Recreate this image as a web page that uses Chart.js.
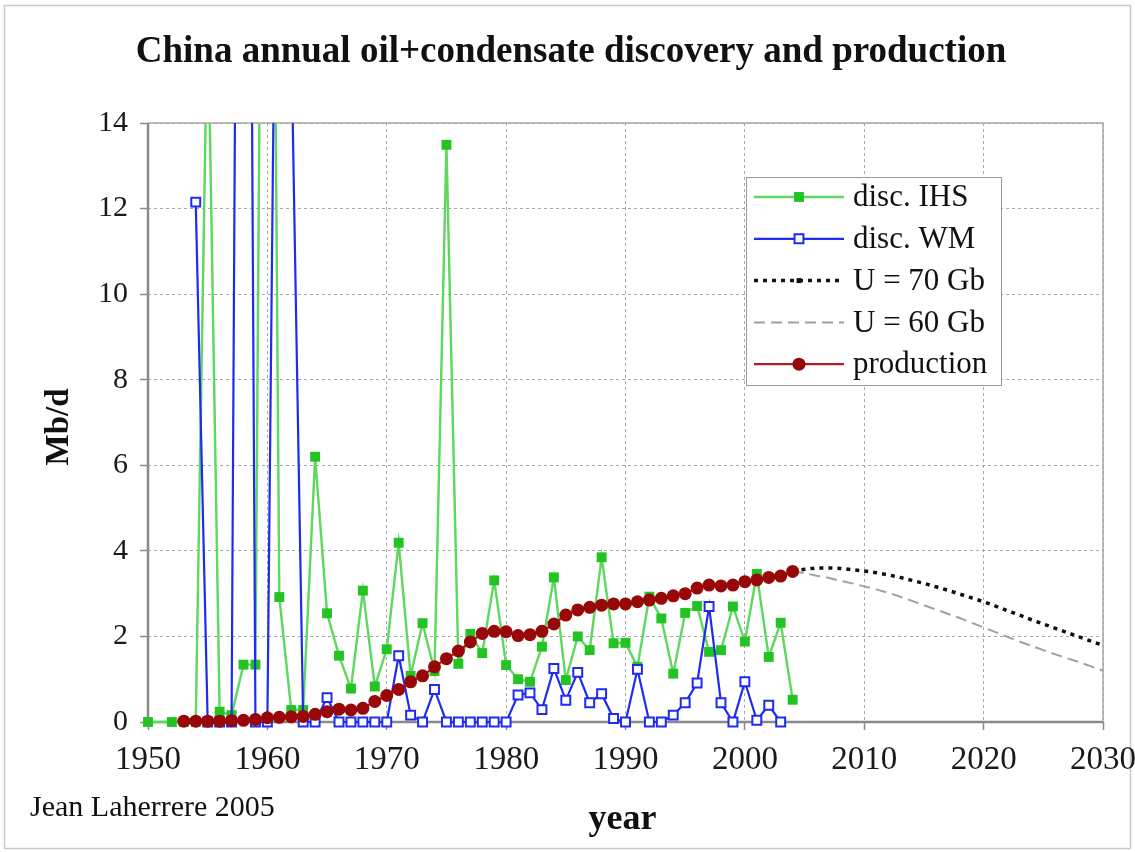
<!DOCTYPE html>
<html>
<head>
<meta charset="utf-8">
<title>China annual oil+condensate discovery and production</title>
<script src="https://cdn.jsdelivr.net/npm/chart.js@4/dist/chart.umd.min.js"></script>
<style>
  html, body { margin: 0; padding: 0; background: #fff; }
  canvas { display: block; }
</style>
</head>
<body>
<canvas id="chart" width="1135" height="852"></canvas>
<script>
// Discovery according to IHS (Mb/d equivalent), 1950-2004
const ihsYears = [1950,1951,1952,1953,1954,1955,1956,1957,1958,1959,1960,1961,1962,1963,1964,1965,1966,1967,1968,1969,1970,1971,1972,1973,1974,1975,1976,1977,1978,1979,1980,1981,1982,1983,1984,1985,1986,1987,1988,1989,1990,1991,1992,1993,1994,1995,1996,1997,1998,1999,2000,2001,2002,2003,2004];
const ihsValues = [0,null,0,0,0,17,0.24,0.16,1.34,1.34,40,2.92,0.28,0.28,6.2,2.54,1.55,0.78,3.07,0.83,1.7,4.19,1.08,2.31,1.19,13.49,1.36,2.06,1.61,3.31,1.33,1.0,0.94,1.76,3.38,0.98,2.0,1.68,3.85,1.84,1.85,1.29,2.93,2.42,1.13,2.55,2.71,1.64,1.68,2.7,1.88,3.46,1.52,2.32,0.52];

// Discovery according to Wood Mackenzie, 1954-2003
const wmYears = [1954,1955,1956,1957,1958,1959,1960,1961,1962,1963,1964,1965,1966,1967,1968,1969,1970,1971,1972,1973,1974,1975,1976,1977,1978,1979,1980,1981,1982,1983,1984,1985,1986,1987,1988,1989,1990,1991,1992,1993,1994,1995,1996,1997,1998,1999,2000,2001,2002,2003];
const wmValues = [12.15,0,0,0,50,0,0,28,16,0,0,0.57,0,0,0,0,0,1.55,0.16,0,0.76,0,0,0,0,0,0,0.63,0.68,0.29,1.25,0.51,1.16,0.45,0.66,0.08,0,1.23,0,0,0.16,0.45,0.91,2.7,0.45,0,0.94,0.04,0.39,0];

// Production, 1953-2004
const prodYears = [1953,1954,1955,1956,1957,1958,1959,1960,1961,1962,1963,1964,1965,1966,1967,1968,1969,1970,1971,1972,1973,1974,1975,1976,1977,1978,1979,1980,1981,1982,1983,1984,1985,1986,1987,1988,1989,1990,1991,1992,1993,1994,1995,1996,1997,1998,1999,2000,2001,2002,2003,2004];
const prodValues = [0.02,0.02,0.02,0.02,0.03,0.04,0.06,0.1,0.11,0.12,0.13,0.18,0.24,0.3,0.28,0.32,0.48,0.62,0.76,0.94,1.08,1.29,1.48,1.66,1.87,2.07,2.12,2.11,2.02,2.04,2.12,2.29,2.5,2.62,2.68,2.73,2.76,2.76,2.81,2.85,2.89,2.95,3.0,3.13,3.2,3.18,3.2,3.28,3.32,3.38,3.41,3.52];

// Production outlook for ultimate recovery of 70 Gb and 60 Gb, 2004-2030
const outlookYears = [2004,2005,2006,2007,2008,2009,2010,2011,2012,2013,2014,2015,2016,2017,2018,2019,2020,2021,2022,2023,2024,2025,2026,2027,2028,2029,2030];
const u70Values = [3.52,3.57,3.6,3.6,3.59,3.56,3.53,3.49,3.44,3.38,3.31,3.24,3.16,3.08,2.99,2.9,2.81,2.71,2.6,2.5,2.39,2.29,2.19,2.09,1.99,1.89,1.79];
const u60Values = [3.52,3.48,3.42,3.37,3.3,3.24,3.17,3.1,3.02,2.93,2.83,2.73,2.63,2.53,2.43,2.32,2.21,2.1,1.99,1.88,1.78,1.68,1.58,1.49,1.4,1.3,1.2];

// Axis ticks
const yearTicks = [1950,1960,1970,1980,1990,2000,2010,2020,2030];
const mbdTicks = [0,2,4,6,8,10,12,14];

const SERIF = '"Liberation Serif", "Times New Roman", Times, serif';

function toPoints(xs, ys) {
  return xs.map((x, i) => ({ x: x, y: ys[i] }));
}

// Markers for the hand-drawn legend
function drawMarker(ctx, ds, x, y) {
  const r = ds.pointRadius || 0;
  if (!r) return;
  ctx.save();
  ctx.setLineDash([]);
  ctx.fillStyle = ds.pointBackgroundColor;
  ctx.strokeStyle = ds.pointBorderColor;
  ctx.lineWidth = ds.pointBorderWidth || 1;
  ctx.beginPath();
  if (ds.pointStyle === 'circle') {
    ctx.arc(x, y, r, 0, Math.PI * 2);
  } else {
    const s = Math.SQRT1_2 * r;
    ctx.rect(x - s, y - s, 2 * s, 2 * s);
  }
  ctx.fill();
  if (ds.pointBorderWidth) ctx.stroke();
  ctx.restore();
}

const decorations = {
  id: 'decorations',
  beforeDraw(chart) {
    const ctx = chart.ctx;
    ctx.save();
    ctx.fillStyle = '#ffffff';
    ctx.fillRect(0, 0, chart.width, chart.height);
    ctx.strokeStyle = '#c9c9c9';
    ctx.lineWidth = 1.5;
    ctx.strokeRect(4.5, 5.5, chart.width - 9, chart.height - 9);
    ctx.restore();
  },
  beforeDatasetsDraw(chart) {
    const ctx = chart.ctx;
    const a = chart.chartArea;
    ctx.save();
    ctx.setLineDash([]);
    // top and right edges of the plot
    ctx.strokeStyle = '#a8a8a8';
    ctx.lineWidth = 1.5;
    ctx.beginPath();
    ctx.moveTo(a.left, a.top);
    ctx.lineTo(a.right, a.top);
    ctx.lineTo(a.right, a.bottom);
    ctx.stroke();
    // axes
    ctx.strokeStyle = '#8a8a8a';
    ctx.lineWidth = 2.5;
    ctx.beginPath();
    ctx.moveTo(a.left, a.top);
    ctx.lineTo(a.left, a.bottom);
    ctx.lineTo(a.right, a.bottom);
    ctx.stroke();
    ctx.restore();
  },
  afterDraw(chart) {
    const ctx = chart.ctx;
    const a = chart.chartArea;
    ctx.save();
    ctx.fillStyle = '#111';

    // title
    ctx.font = 'bold 37px ' + SERIF;
    ctx.textAlign = 'center';
    ctx.textBaseline = 'alphabetic';
    ctx.fillText('China annual oil+condensate discovery and production', 571, 62);

    // axis titles
    ctx.font = 'bold 36px ' + SERIF;
    ctx.fillText('year', (a.left + a.right) / 2 - 3, 829);
    ctx.save();
    ctx.translate(68, 427);
    ctx.rotate(-Math.PI / 2);
    ctx.font = 'bold 33px ' + SERIF;
    ctx.fillText('Mb/d', 0, 0);
    ctx.restore();

    // credit
    ctx.font = '30px ' + SERIF;
    ctx.textAlign = 'left';
    ctx.fillText('Jean Laherrere 2005', 30, 816);

    // legend
    const lx = a.left + 598, ly = a.top + 54, lw = 255, lh = 208;
    ctx.fillStyle = '#ffffff';
    ctx.fillRect(lx, ly, lw, lh);
    ctx.strokeStyle = '#9a9a9a';
    ctx.lineWidth = 1;
    ctx.strokeRect(lx + 0.5, ly + 0.5, lw, lh);
    const legendOrder = ['disc. IHS', 'disc. WM', 'U = 70 Gb', 'U = 60 Gb', 'production'];
    legendOrder.forEach((label, i) => {
      const ds = chart.data.datasets.find(d => d.label === label);
      const y = ly + 20 + i * 41.8;
      ctx.save();
      ctx.strokeStyle = ds.borderColor;
      ctx.lineWidth = ds.borderWidth;
      ctx.setLineDash(ds.borderDash || []);
      ctx.beginPath();
      ctx.moveTo(lx + 8, y);
      ctx.lineTo(lx + 98, y);
      ctx.stroke();
      ctx.restore();
      drawMarker(ctx, Object.assign({}, ds, { pointRadius: ds.legendRadius }), lx + 53, y);
      ctx.fillStyle = '#111';
      ctx.font = '31px ' + SERIF;
      ctx.textAlign = 'left';
      ctx.textBaseline = 'middle';
      ctx.fillText(label, lx + 107, y + 1);
    });
    ctx.restore();
  }
};

const clipTopOnly = { top: 0, left: 10, right: 10, bottom: 10 };

new Chart(document.getElementById('chart'), {
  type: 'line',
  data: {
    datasets: [
      {
        label: 'disc. IHS',
        data: toPoints(ihsYears, ihsValues),
        order: 5,
        spanGaps: true,
        borderColor: '#5ed85e',
        borderWidth: 2.4,
        pointStyle: 'rect',
        pointRadius: 7,
        legendRadius: 7,
        pointBackgroundColor: '#22c322',
        pointBorderColor: '#22c322',
        pointBorderWidth: 0,
        clip: clipTopOnly
      },
      {
        label: 'disc. WM',
        data: toPoints(wmYears, wmValues),
        order: 4,
        borderColor: '#1f2bf0',
        borderWidth: 2.2,
        pointStyle: 'rect',
        pointRadius: 6.3,
        legendRadius: 6.3,
        pointBackgroundColor: '#ffffff',
        pointBorderColor: '#1f2bf0',
        pointBorderWidth: 2,
        clip: clipTopOnly
      },
      {
        label: 'U = 70 Gb',
        data: toPoints(outlookYears, u70Values),
        order: 3,
        borderColor: '#111111',
        borderWidth: 3.5,
        borderDash: [4, 5],
        pointStyle: 'rect',
        pointRadius: 0,
        legendRadius: 3.5,
        pointBackgroundColor: '#111111',
        pointBorderColor: '#111111',
        pointBorderWidth: 0,
        clip: clipTopOnly
      },
      {
        label: 'U = 60 Gb',
        data: toPoints(outlookYears, u60Values),
        order: 2,
        borderColor: '#a0a0a0',
        borderWidth: 2,
        borderDash: [11, 6],
        pointRadius: 0,
        legendRadius: 0,
        clip: clipTopOnly
      },
      {
        label: 'production',
        data: toPoints(prodYears, prodValues),
        order: 1,
        borderColor: '#b02020',
        borderWidth: 2.2,
        pointStyle: 'circle',
        pointRadius: 6.5,
        legendRadius: 6.5,
        pointBackgroundColor: '#980808',
        pointBorderColor: '#980808',
        pointBorderWidth: 0,
        clip: clipTopOnly
      }
    ]
  },
  options: {
    responsive: false,
    animation: false,
    events: [],
    layout: { autoPadding: false, padding: { top: 123, right: 32, left: 0, bottom: 0 } },
    elements: { line: { tension: 0 } },
    plugins: { legend: { display: false }, title: { display: false }, tooltip: { enabled: false } },
    scales: {
      x: {
        type: 'linear',
        min: 1950,
        max: 2030,
        afterBuildTicks: s => { s.ticks = yearTicks.map(v => ({ value: v })); },
        afterFit: s => { s.height = 130; s.paddingLeft = 0; s.paddingRight = 0; },
        ticks: {
          autoSkip: false,
          maxRotation: 0,
          padding: 11,
          color: '#1a1a1a',
          font: { family: SERIF, size: 33 },
          callback: v => String(v)
        },
        grid: { color: '#a8a8a8', lineWidth: 1, tickLength: 8, tickColor: '#8a8a8a', tickWidth: 1.5 },
        border: { display: false, dash: [3, 3] }
      },
      y: {
        type: 'linear',
        min: 0,
        max: 14,
        afterBuildTicks: s => { s.ticks = mbdTicks.map(v => ({ value: v })); },
        afterFit: s => { s.width = 148; s.paddingTop = 0; s.paddingBottom = 0; },
        ticks: {
          autoSkip: false,
          padding: 12,
          color: '#1a1a1a',
          font: { family: SERIF, size: 30 },
          callback: v => String(v)
        },
        grid: { color: '#a8a8a8', lineWidth: 1, tickLength: 8, tickColor: '#8a8a8a', tickWidth: 1.5 },
        border: { display: false, dash: [3, 3] }
      }
    }
  },
  plugins: [decorations]
});
</script>
</body>
</html>
